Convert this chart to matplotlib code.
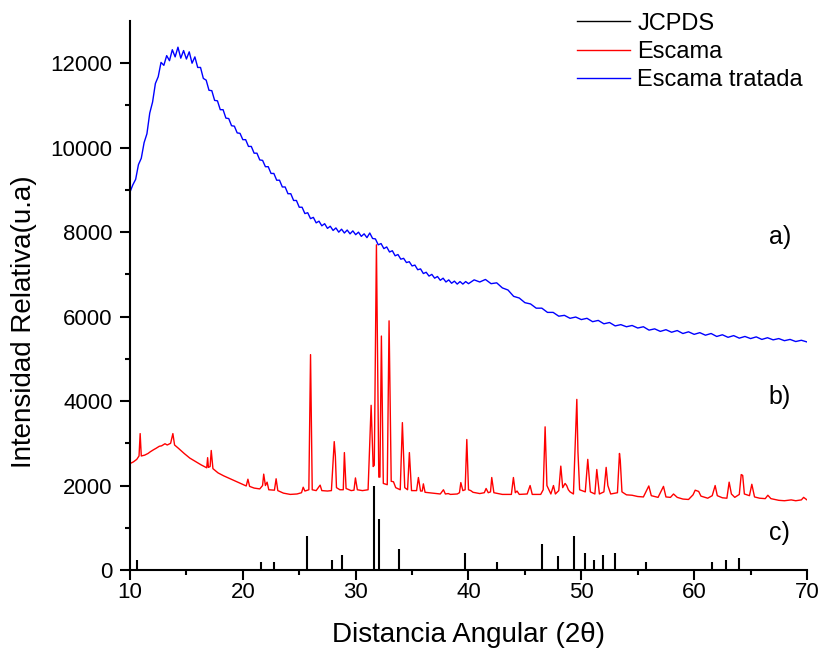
import matplotlib
matplotlib.use("Agg")
import matplotlib.pyplot as plt

plt.rcParams['font.family'] = ['Liberation Sans', 'DejaVu Sans']

# JCPDS reference sticks
jcpds_x = [10.59, 21.61, 22.74, 25.69, 27.94, 28.79, 31.62, 32.05, 33.87, 39.70,
           42.50, 46.52, 47.94, 49.33, 50.31, 51.13, 51.90, 53.00, 55.75, 61.57,
           62.84, 63.93]
jcpds_y = [240, 200, 200, 805, 240, 355, 2000, 1205, 500, 395,
           200, 610, 320, 805, 395, 240, 355, 400, 200, 200,
           240, 275]

# Escama (red)
esc_x = [10.0, 10.3, 10.6, 10.8, 10.9, 11.0, 11.3, 11.6, 11.8, 12.1, 12.3, 12.6, 12.8, 13.1,
         13.3, 13.6, 13.8, 13.95,
         14.3, 14.8, 15.3, 15.8, 16.3, 16.8, 16.88, 16.95, 17.1, 17.2, 17.35, 17.8, 18.3, 18.8,
         19.3, 19.8, 20.3, 20.45, 20.6, 21.0, 21.5, 21.75, 21.85, 22.0, 22.15, 22.3, 22.8, 22.95,
         23.1, 23.6, 24.2, 24.8, 25.2, 25.35, 25.5, 25.85, 26.0, 26.15, 26.5, 26.85, 27.0, 27.5,
         27.85, 28.1, 28.2, 28.3, 28.6, 28.9, 29.0, 29.15, 29.6, 29.85, 29.98, 30.15, 30.6, 31.1,
         31.37, 31.55, 31.65, 31.84, 32.05, 32.15, 32.28, 32.45, 32.8, 32.96, 33.15, 33.35, 33.55,
         33.95, 34.14, 34.35, 34.6, 34.76, 34.95, 35.4, 35.56, 35.75, 35.9, 36.0, 36.15, 36.8,
         37.5, 37.78, 37.95, 38.2, 38.4, 39.0, 39.2, 39.32, 39.5, 39.7, 39.85, 40.0, 40.2, 40.4,
         41.0, 41.4, 41.56, 41.75, 41.95, 42.06, 42.25, 43.0, 43.8, 43.98, 44.15, 44.3, 44.5,
         45.2, 45.46, 45.65, 46.4, 46.62, 46.79, 46.95, 47.3, 47.53, 47.7, 48.0, 48.18, 48.35,
         48.56, 48.7, 48.85, 49.0, 49.3, 49.6, 49.7, 49.85, 50.35, 50.57, 50.8, 51.2, 51.37,
         51.6, 52.0, 52.2, 52.35, 52.6, 53.2, 53.38, 53.45, 53.6, 54.0, 54.5, 55.0, 55.5, 55.98,
         56.2, 56.8, 57.28, 57.5, 57.9, 58.17, 58.5, 59.0, 59.5, 59.9, 60.09, 60.4, 60.6, 61.2,
         61.6, 61.86, 62.05, 62.5, 62.9, 63.1, 63.3, 63.6, 64.0, 64.17, 64.3, 64.45, 64.9, 65.11,
         65.35, 65.8, 66.3, 66.53, 66.8, 67.5, 68.0, 68.6, 69.0, 69.5, 69.7, 70.0]
esc_y = [2520, 2560, 2620, 2700, 3230, 2700, 2720, 2760, 2800, 2850, 2880, 2930, 2940, 2990,
         2960, 3000, 3230, 2960,
         2880, 2760, 2650, 2570, 2490, 2420, 2660, 2430, 2450, 2830, 2400, 2300, 2230, 2170,
         2110, 2050, 1990, 2150, 1980, 1940, 1920, 2000, 2270, 2000, 2080, 1900, 1890, 2160,
         1880, 1820, 1790, 1800, 1830, 1960, 1870, 1900, 5100, 1900, 1880, 2010, 1880, 1870,
         1880, 3040, 2700, 1950, 1900, 1900, 2780, 1930, 1880, 1890, 2180, 1900, 1880, 1900,
         3900, 2450, 2480, 7700, 2200, 2200, 5540, 2050, 2020, 5900, 2100, 2090, 1950,
         1900, 3490, 1950, 1900, 2780, 1880, 1880, 2190, 1870, 1870, 2040, 1840, 1820,
         1800, 1900, 1800, 1810, 1790, 1800, 1830, 2070, 1880, 1900, 3090, 1900, 1880, 1840,
         1810, 1830, 1930, 1830, 1850, 2190, 1830, 1790, 1790, 2190, 1830, 1870, 1790,
         1800, 2000, 1790, 1790, 1900, 3390, 2000, 1800, 2000, 1800, 1880, 2460, 1950,
         2050, 2000, 1900, 1850, 1800, 4040, 2800, 1900, 1850, 2620, 1850, 1800, 2380,
         1800, 1850, 2430, 2000, 1800, 1830, 2760, 2600, 1850, 1780, 1770, 1740, 1730, 1990,
         1760, 1720, 1980, 1730, 1720, 1800, 1720, 1680, 1670, 1780, 1890, 1860, 1750, 1700,
         1760, 2000, 1760, 1710, 1700, 2080, 1800, 1720, 1790, 2260, 2240, 1800, 1760, 2030,
         1730, 1700, 1690, 1770, 1690, 1650, 1640, 1660, 1640, 1660, 1720, 1660]

# Escama tratada (blue)
trat_x = [10.00, 10.25, 10.50, 10.75, 11.00, 11.25, 11.50, 11.75, 12.00, 12.25, 12.50, 12.75,
          13.00, 13.25, 13.50, 13.75, 14.00, 14.25, 14.50, 14.75, 15.00, 15.25, 15.50, 15.75,
          16.00, 16.25, 16.50, 16.75, 17.00, 17.25, 17.50, 17.75, 18.00, 18.25, 18.50, 18.75,
          19.00, 19.25, 19.50, 19.75, 20.00, 20.25, 20.50, 20.75, 21.00, 21.25, 21.50, 21.75,
          22.00, 22.25, 22.50, 22.75, 23.00, 23.25, 23.50, 23.75, 24.00, 24.25, 24.50, 24.75,
          25.00, 25.25, 25.50, 25.75, 26.00, 26.25, 26.50, 26.75, 27.00, 27.25, 27.50, 27.75,
          28.00, 28.25, 28.50, 28.75, 29.00, 29.25, 29.50, 29.75, 30.00, 30.25, 30.50, 30.75,
          31.00, 31.25, 31.50, 31.75, 32.00, 32.25, 32.50, 32.75, 33.00, 33.25, 33.50, 33.75,
          34.00, 34.25, 34.50, 34.75, 35.00, 35.25, 35.50, 35.75, 36.00, 36.25, 36.50, 36.75,
          37.00, 37.25, 37.50, 37.75, 38.00, 38.25, 38.50, 38.75, 39.00, 39.25, 39.50, 39.75,
          40.00, 40.5, 41.0, 41.5, 42.0, 42.5, 43.0, 43.5, 44.0, 44.5, 45.0, 45.5, 46.0, 46.5,
          47.0, 47.5, 48.0, 48.5, 49.0, 49.5, 50.0, 50.5, 51.0, 51.5, 52.0, 52.5, 53.0, 53.5,
          54.0, 54.5, 55.0, 55.5, 56.0, 56.5, 57.0, 57.5, 58.0, 58.5, 59.0, 59.5, 60.0, 60.5,
          61.0, 61.5, 62.0, 62.5, 63.0, 63.5, 64.0, 64.5, 65.0, 65.5, 66.0, 66.5, 67.0, 67.5,
          68.0, 68.5, 69.0, 69.5, 70.0]
trat_y = [8950, 9120, 9250, 9600, 9750, 10120, 10330, 10820, 11080, 11520, 11680, 12020,
          11950, 12180, 12060, 12320, 12150, 12380, 12120, 12300, 12100, 12270, 12000, 12150,
          11900, 11900, 11640, 11600, 11360, 11350, 11120, 11110, 10900, 10900, 10700, 10690,
          10520, 10510, 10350, 10340, 10190, 10190, 10030, 10030, 9870, 9870, 9710, 9700,
          9550, 9550, 9390, 9390, 9230, 9230, 9070, 9070, 8910, 8910, 8750, 8750,
          8590, 8590, 8440, 8460, 8320, 8350, 8220, 8260, 8150, 8200, 8090, 8140,
          8040, 8100, 8000, 8070, 7980, 8050, 7960, 8030, 7940, 8000, 7900, 7960,
          7870, 7980, 7850, 7840, 7700, 7730, 7610, 7650, 7530, 7560, 7440, 7470,
          7360, 7380, 7280, 7300, 7200, 7220, 7110, 7130, 7020, 7050, 6960, 7000,
          6910, 6950, 6860, 6910, 6820, 6870, 6790, 6840, 6770, 6830, 6770, 6830,
          6780, 6870, 6820, 6880, 6780, 6800, 6680, 6630, 6480, 6440, 6330, 6300, 6200, 6200,
          6100, 6100, 6010, 6030, 5960, 5990, 5930, 5960, 5880, 5910, 5830, 5860, 5780, 5810,
          5760, 5790, 5730, 5760, 5680, 5710, 5650, 5690, 5630, 5670, 5600, 5640, 5580, 5620,
          5560, 5600, 5530, 5570, 5510, 5550, 5490, 5530, 5480, 5520, 5460, 5500, 5450, 5480,
          5430, 5460, 5410, 5440, 5400]

labels = ["JCPDS", "Escama", "Escama tratada"]
panel_labels = ["a)", "b)", "c)"]
panel_y = [7880, 4100, 880]

fig = plt.figure(figsize=(8.2, 6.54), dpi=100)
ax = fig.add_axes([130/820, 1-570/654, 677/820, 549/654])

ax.vlines(jcpds_x, 0, jcpds_y, color='black', lw=1.5)
ax.plot([], [], color='black', lw=1.0, label=labels[0])
ax.plot(esc_x, esc_y, color='#ff0000', lw=1.0, label=labels[1])
ax.plot(trat_x, trat_y, color='#0000ff', lw=1.0, label=labels[2])

ax.set_xlim(10, 70)
ax.set_ylim(0, 13000)
ax.set_xticks([10, 20, 30, 40, 50, 60, 70])
ax.set_xticks([15, 25, 35, 45, 55, 65], minor=True)
ax.set_yticks([0, 2000, 4000, 6000, 8000, 10000, 12000])
ax.set_yticks([1000, 3000, 5000, 7000, 9000, 11000], minor=True)

for s in ['top', 'right']:
    ax.spines[s].set_visible(False)
for s in ['left', 'bottom']:
    ax.spines[s].set_linewidth(1.5)
ax.tick_params(which='major', direction='out', length=7, width=1.5, labelsize=16)
ax.tick_params(axis='x', which='major', pad=1.5)
ax.tick_params(axis='y', which='major', pad=5.5)
ax.tick_params(which='minor', direction='out', length=3.5, width=1.5)

ax.set_xlabel("Distancia Angular (2θ)", fontsize=20, labelpad=14)
ax.set_ylabel("Intensidad Relativa(u.a)", fontsize=20)
ax.yaxis.set_label_coords((37 - 130) / 677, (570 - 322) / 549.2)

for lab, yy in zip(panel_labels, panel_y):
    ax.text(66.6, yy, lab, fontsize=18, va='center', ha='left')

fig.legend(loc='upper left', bbox_to_anchor=(577/820, 1-12.5/654), frameon=False,
           fontsize=17, handlelength=2.25, handletextpad=0.3, borderpad=0, labelspacing=0.27,
           borderaxespad=0)

fig.savefig("out.png", dpi=100)
